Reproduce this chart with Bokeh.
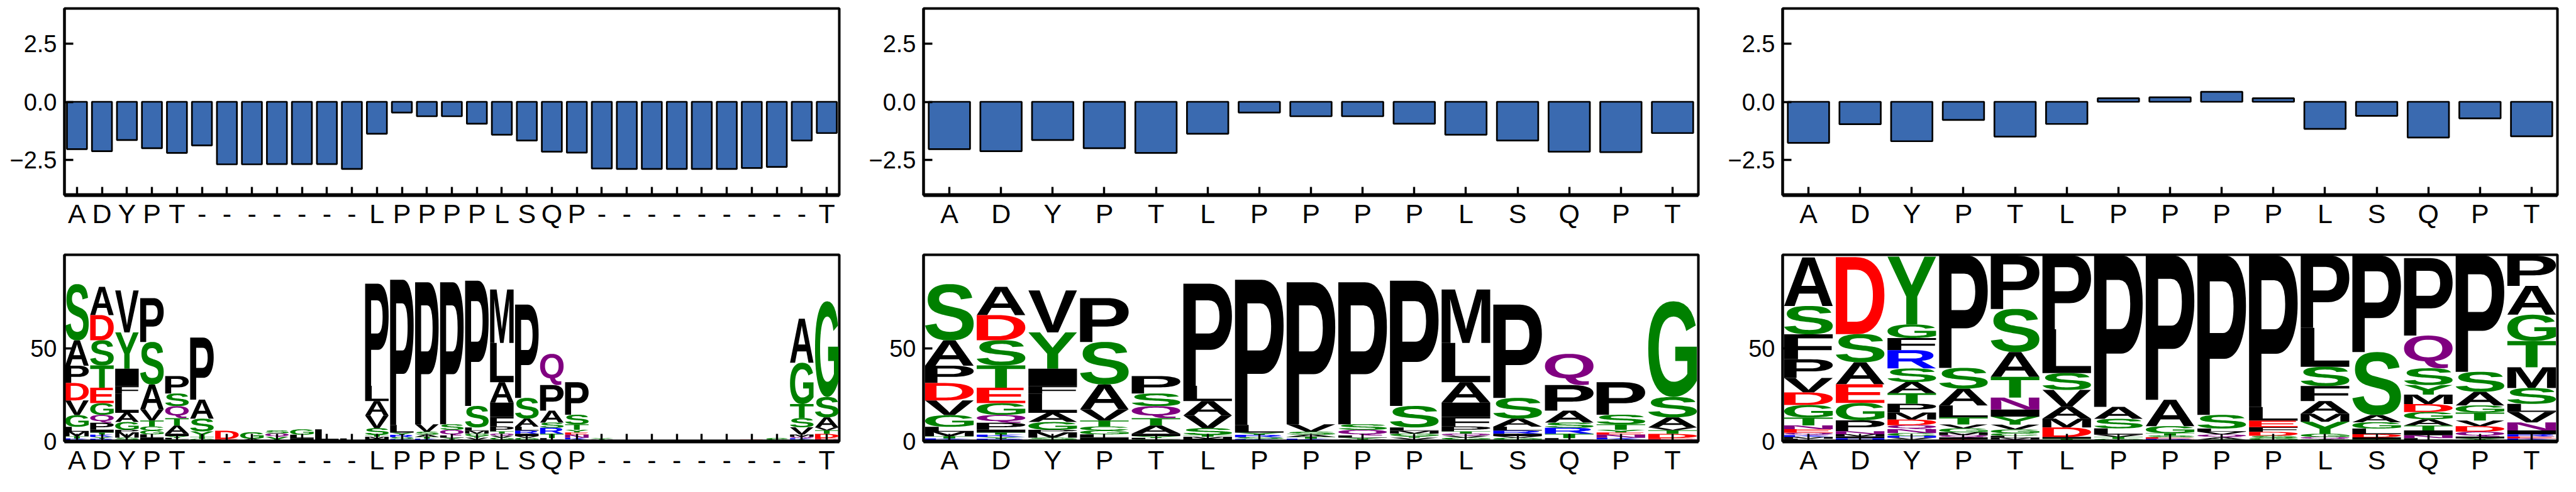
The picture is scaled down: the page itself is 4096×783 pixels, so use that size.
import os, struct
from bokeh.plotting import figure
from bokeh.layouts import column, row
from bokeh.models import FixedTicker, Range1d, CustomJSTickFormatter
from bokeh.embed import file_html
from bokeh.resources import INLINE
from bokeh.core.properties import value

# ---------------- data ----------------
labels_full = list("ADYPT") + ["-"] * 7 + list("LPPPPLSQP") + ["-"] * 9 + ["T"]
labels_short = list("ADYPTLPPPPLSQPT")

bars_full = [-2.03, -2.12, -1.64, -1.99, -2.19, -1.87, -2.68, -2.68, -2.67, -2.67, -2.67, -2.88,
             -1.37, -0.46, -0.62, -0.62, -0.94, -1.41, -1.66, -2.14, -2.18,
             -2.86, -2.88, -2.88, -2.88, -2.88, -2.88, -2.84, -2.79, -1.66, -1.34]
bars_mid = [-2.03, -2.12, -1.64, -1.99, -2.19, -1.37, -0.46, -0.62, -0.62, -0.94,
            -1.41, -1.66, -2.14, -2.16, -1.34]
bars_right = [-1.76, -0.96, -1.69, -0.78, -1.49, -0.95, 0.15, 0.19, 0.43, 0.15,
              -1.16, -0.60, -1.53, -0.71, -1.48]

# sequence-logo stacks: (letter, height) listed from top to bottom
logo_mid = [
    [("S", 30.2), ("A", 13.5), ("P", 9.3), ("D", 9.3), ("V", 7.9), ("G", 6.3), ("L", 2.6), ("M", 2.4), ("T", 1.2), ("K", 0.8), ("Y", 0.8)],
    [("A", 15.1), ("D", 13.5), ("S", 13.5), ("T", 11.9), ("E", 8.3), ("G", 6.3), ("Q", 4.2), ("P", 3.7), ("I", 1.5), ("T", 1.2), ("K", 1.2), ("Y", 1.0), ("R", 0.8), ("M", 0.6)],
    [("V", 22.5), ("Y", 19.4), ("I", 9.3), ("F", 4.2), ("L", 10.2), ("A", 4.9), ("G", 4.2), ("P", 1.3), ("M", 2.9), ("S", 1.0), ("T", 1.0)],
    [("P", 23.5), ("S", 22.8), ("A", 13.3), ("V", 6.0), ("T", 3.2), ("C", 2.1), ("G", 2.1), ("L", 1.8), ("I", 1.2), ("M", 0.8)],
    [("P", 9.3), ("S", 6.8), ("Q", 6.4), ("T", 4.0), ("A", 4.4), ("I", 1.2), ("Y", 1.0), ("L", 0.8), ("G", 0.6), ("S", 0.5)],
    [("P", 54.7), ("L", 8.2), ("A", 7.7), ("V", 6.8), ("S", 3.6), ("T", 1.0), ("M", 1.0), ("I", 0.8), ("G", 0.7)],
    [("P", 77.8), ("L", 4.1), ("Y", 1.2), ("R", 1.2), ("S", 1.0), ("K", 0.8), ("M", 0.5)],
    [("P", 76.1), ("V", 4.0), ("S", 1.6), ("A", 1.2), ("T", 1.0), ("K", 0.8), ("R", 0.6)],
    [("P", 76.1), ("S", 3.0), ("Q", 3.0), ("L", 1.2), ("Y", 1.0), ("V", 1.0)],
    [("P", 67.1), ("S", 11.5), ("L", 1.8), ("M", 1.5), ("G", 1.2), ("Y", 1.0), ("V", 1.0), ("A", 1.0)],
    [("M", 28.6), ("L", 21.1), ("A", 10.9), ("I", 7.7), ("F", 5.1), ("P", 2.6), ("T", 1.2), ("Q", 1.2), ("V", 1.0), ("G", 1.0), ("S", 1.0)],
    [("P", 50.0), ("S", 11.1), ("A", 4.3), ("L", 2.1), ("R", 1.7), ("I", 1.2), ("V", 1.0), ("G", 1.0), ("T", 0.9)],
    [("Q", 16.7), ("P", 13.7), ("A", 6.4), ("S", 2.8), ("R", 3.2), ("T", 2.3), ("L", 0.9), ("K", 0.9)],
    [("P", 17.4), ("S", 5.1), ("T", 3.0), ("Y", 1.4), ("E", 1.2), ("N", 1.7), ("K", 0.8), ("A", 0.6), ("G", 0.5)],
    [("G", 51.3), ("S", 10.9), ("A", 5.4), ("V", 1.5), ("T", 2.0), ("D", 2.2), ("E", 0.8), ("N", 0.6), ("S", 0.4)],
]

logo_gaps_a = [
    [("P", 33.2), ("A", 10.2), ("S", 6.8), ("Y", 3.0), ("T", 1.0), ("G", 0.8), ("V", 0.6)],
    [("D", 4.4), ("E", 0.8), ("G", 0.5)],
    [("G", 3.5), ("A", 1.0), ("K", 0.4)],
    [("S", 1.6), ("Q", 1.9), ("Y", 2.0), ("K", 0.4)],
    [("G", 2.9), ("L", 1.8), ("I", 1.8)],
    [("L", 6.0), ("S", 0.5)],
    [("L", 1.2), ("T", 0.4)],
]
logo_gaps_b = [
    [("Y", 0.8), ("V", 0.7), ("G", 0.3)],
    [("S", 0.3)],
    [("L", 0.3)],
    [("G", 0.3)],
    [("T", 0.3)],
    [("Q", 0.3)],
    [("E", 0.5), ("D", 0.4)],
    [("S", 1.8)],
    [("A", 23.5), ("G", 22.2), ("T", 7.5), ("S", 4.9), ("V", 3.9), ("M", 1.2), ("Q", 0.8), ("K", 0.6), ("T", 0.6), ("S", 0.5)],
]

logo_right = [
    [("A", 26.0), ("S", 15.2), ("F", 13.4), ("P", 10.0), ("V", 7.7), ("D", 6.8), ("G", 6.7), ("T", 4.2), ("N", 2.0), ("E", 2.0), ("Q", 1.2), ("K", 1.0), ("M", 1.0), ("L", 0.8), ("I", 0.6)],
    [("D", 41.2), ("S", 15.1), ("A", 11.8), ("E", 10.0), ("G", 9.3), ("P", 5.8), ("N", 1.6), ("M", 1.2), ("I", 1.0), ("H", 0.9), ("Y", 0.8)],
    [("Y", 36.3), ("G", 7.3), ("F", 6.5), ("R", 9.8), ("S", 7.3), ("A", 6.0), ("T", 5.6), ("P", 4.7), ("M", 3.8), ("D", 3.0), ("Q", 2.1), ("N", 2.1), ("C", 1.5), ("H", 1.0), ("V", 1.0), ("L", 1.0)],
    [("P", 60.3), ("S", 11.1), ("A", 9.0), ("L", 6.4), ("T", 3.8), ("V", 2.1), ("G", 2.1), ("M", 1.5), ("Q", 1.2), ("I", 1.2), ("D", 1.0)],
    [("P", 28.5), ("S", 23.1), ("A", 13.3), ("T", 11.1), ("N", 6.4), ("I", 3.8), ("Y", 4.3), ("V", 2.6), ("G", 2.0), ("C", 1.4), ("L", 1.0), ("M", 1.0), ("Q", 1.0)],
    [("P", 39.7), ("L", 23.5), ("S", 9.0), ("V", 9.0), ("A", 6.4), ("M", 4.7), ("D", 5.1), ("I", 1.0), ("T", 0.8), ("G", 0.6)],
    [("P", 81.2), ("A", 6.4), ("S", 5.1), ("L", 3.4), ("V", 1.2), ("T", 1.0), ("G", 0.8), ("E", 0.6)],
    [("P", 77.4), ("A", 14.1), ("G", 3.8), ("T", 1.2), ("S", 1.0), ("E", 0.8), ("R", 0.8), ("D", 0.6)],
    [("P", 85.5), ("S", 7.3), ("L", 1.7), ("V", 1.5), ("Q", 1.5), ("A", 1.2), ("G", 1.0)],
    [("P", 81.2), ("L", 7.3), ("E", 3.4), ("F", 2.6), ("D", 2.1), ("S", 1.2), ("G", 1.0), ("T", 0.8)],
    [("P", 38.9), ("L", 20.9), ("S", 10.3), ("F", 8.1), ("A", 6.8), ("M", 4.3), ("Y", 6.4), ("G", 1.7), ("Q", 1.2), ("T", 1.2)],
    [("P", 51.7), ("S", 33.8), ("A", 3.8), ("G", 3.4), ("L", 3.0), ("D", 1.7), ("I", 1.2), ("T", 1.0)],
    [("P", 41.5), ("Q", 17.5), ("S", 9.0), ("Y", 5.1), ("M", 5.1), ("D", 4.3), ("G", 3.8), ("A", 3.4), ("T", 2.6), ("I", 2.6), ("N", 1.5), ("L", 1.0), ("E", 0.8)],
    [("P", 62.4), ("S", 10.7), ("A", 7.3), ("G", 3.8), ("T", 4.3), ("V", 3.0), ("D", 3.0), ("Q", 2.6), ("I", 1.0), ("Y", 0.8), ("N", 0.8)],
    [("P", 16.2), ("A", 15.4), ("G", 14.1), ("T", 14.1), ("M", 11.1), ("S", 8.5), ("L", 4.3), ("V", 5.6), ("N", 4.3), ("I", 2.1), ("R", 1.2), ("E", 1.0), ("K", 0.8), ("D", 0.8)],
]

logo_full = logo_mid[0:5] + logo_gaps_a + logo_mid[5:14] + logo_gaps_b + logo_mid[14:15]

bar_ticks = [-2.5, 0.0, 2.5]
logo_ticks = [0, 50]

# ---------------- styling ----------------
BAR_COLOR = "#3A6AB0"
GREEN, RED, PURPLE, BLUE, BLACK = "#008000", "#FF0000", "#800080", "#0000FF", "#000000"
LETTER_COLORS = {}
for ch in "GSTYC":
    LETTER_COLORS[ch] = GREEN
for ch in "DE":
    LETTER_COLORS[ch] = RED
for ch in "QN":
    LETTER_COLORS[ch] = PURPLE
for ch in "KRH":
    LETTER_COLORS[ch] = BLUE

FONT = "Liberation Sans"
FW, FH = 1232, 297


# ---------------- font outline reader (TrueType) ----------------
def find_font():
    cands = ["LiberationSans-Bold.ttf", "DejaVuSans-Bold.ttf", "Arial Bold.ttf", "arialbd.ttf"]
    roots = ["/usr/share/fonts", "/usr/local/share/fonts",
             os.path.expanduser("~/.fonts"), os.path.expanduser("~/.local/share/fonts")]
    found = {}
    for r in roots:
        if not os.path.isdir(r):
            continue
        for dp, dn, fns in os.walk(r):
            for fn in fns:
                if fn in cands and fn not in found:
                    found[fn] = os.path.join(dp, fn)
    for c in cands:
        if c in found:
            return found[c]
    return None


class TTF:
    def __init__(self, path):
        d = open(path, "rb").read()
        self.d = d
        off0 = struct.unpack(">I", d[12:16])[0] if d[:4] == b"ttcf" else 0
        n = struct.unpack(">H", d[off0 + 4:off0 + 6])[0]
        self.t = {}
        for i in range(n):
            rec = off0 + 12 + 16 * i
            tag = d[rec:rec + 4].decode("latin1")
            off = struct.unpack(">I", d[rec + 8:rec + 12])[0]
            self.t[tag] = off
        h = self.t["head"]
        self.locfmt = struct.unpack(">h", d[h + 50:h + 52])[0]
        self.glyf = self.t["glyf"]
        self.loca = self.t["loca"]
        c = self.t["cmap"]
        nsub = struct.unpack(">H", d[c + 2:c + 4])[0]
        self.cm = None
        for i in range(nsub):
            pid, eid, so = struct.unpack(">HHI", d[c + 4 + 8 * i:c + 12 + 8 * i])
            fmt = struct.unpack(">H", d[c + so:c + so + 2])[0]
            if fmt == 4 and (pid == 0 or (pid == 3 and eid in (1, 10))):
                self.cm = c + so
                break

    def _loca(self, g):
        d, o = self.d, self.loca
        if self.locfmt == 0:
            a, b = struct.unpack(">HH", d[o + 2 * g:o + 2 * g + 4])
            return 2 * a, 2 * b
        return struct.unpack(">II", d[o + 4 * g:o + 4 * g + 8])

    def gid(self, ch):
        d, p, code = self.d, self.cm, ord(ch)
        segx2 = struct.unpack(">H", d[p + 6:p + 8])[0]
        seg = segx2 // 2
        ends_o = p + 14
        starts_o = ends_o + segx2 + 2
        delta_o = starts_o + segx2
        roff_o = delta_o + segx2
        for i in range(seg):
            end = struct.unpack(">H", d[ends_o + 2 * i:ends_o + 2 * i + 2])[0]
            if end >= code:
                start = struct.unpack(">H", d[starts_o + 2 * i:starts_o + 2 * i + 2])[0]
                if start > code:
                    return 0
                delta = struct.unpack(">h", d[delta_o + 2 * i:delta_o + 2 * i + 2])[0]
                ro = struct.unpack(">H", d[roff_o + 2 * i:roff_o + 2 * i + 2])[0]
                if ro == 0:
                    return (code + delta) & 0xFFFF
                a = roff_o + 2 * i + ro + 2 * (code - start)
                g = struct.unpack(">H", d[a:a + 2])[0]
                return (g + delta) & 0xFFFF if g else 0
        return 0

    def contours(self, g):
        d = self.d
        s, e = self._loca(g)
        if e <= s:
            return []
        p = self.glyf + s
        nc = struct.unpack(">h", d[p:p + 2])[0]
        if nc < 0:
            return self._composite(p)
        p += 10
        ends = struct.unpack(">%dH" % nc, d[p:p + 2 * nc])
        p += 2 * nc
        il = struct.unpack(">H", d[p:p + 2])[0]
        p += 2 + il
        npts = ends[-1] + 1 if nc else 0
        flags = []
        while len(flags) < npts:
            f = d[p]
            p += 1
            flags.append(f)
            if f & 8:
                r = d[p]
                p += 1
                flags.extend([f] * r)
        flags = flags[:npts]
        xs, v = [], 0
        for f in flags:
            if f & 2:
                dv = d[p]; p += 1
                v += dv if f & 16 else -dv
            elif not f & 16:
                v += struct.unpack(">h", d[p:p + 2])[0]; p += 2
            xs.append(v)
        ys, v = [], 0
        for f in flags:
            if f & 4:
                dv = d[p]; p += 1
                v += dv if f & 32 else -dv
            elif not f & 32:
                v += struct.unpack(">h", d[p:p + 2])[0]; p += 2
            ys.append(v)
        out, st = [], 0
        for en in ends:
            pts = list(zip(xs[st:en + 1], ys[st:en + 1]))
            on = [fl & 1 for fl in flags[st:en + 1]]
            out.append((pts, on))
            st = en + 1
        return out

    def _composite(self, p):
        d = self.d
        p += 10
        out = []
        while True:
            fl, gi = struct.unpack(">HH", d[p:p + 4]); p += 4
            if fl & 1:
                a1, a2 = struct.unpack(">hh", d[p:p + 4]); p += 4
            else:
                a1, a2 = struct.unpack(">bb", d[p:p + 2]); p += 2
            sx = sy = 1.0
            s01 = s10 = 0.0
            if fl & 8:
                sx = sy = struct.unpack(">h", d[p:p + 2])[0] / 16384.0; p += 2
            elif fl & 0x40:
                sx, sy = [q / 16384.0 for q in struct.unpack(">hh", d[p:p + 4])]; p += 4
            elif fl & 0x80:
                sx, s01, s10, sy = [q / 16384.0 for q in struct.unpack(">hhhh", d[p:p + 8])]; p += 8
            dx, dy = (a1, a2) if fl & 2 else (0, 0)
            for pts, on in self.contours(gi):
                out.append(([(x * sx + y * s10 + dx, x * s01 + y * sy + dy) for x, y in pts], on))
            if not fl & 0x20:
                break
        return out


def flatten(pts, on, steps=6):
    n = len(pts)
    seq = []
    for k in range(n):
        seq.append((pts[k], on[k]))
        if not on[k] and not on[(k + 1) % n]:
            q = pts[(k + 1) % n]
            seq.append((((pts[k][0] + q[0]) / 2.0, (pts[k][1] + q[1]) / 2.0), 1))
    s = next(i for i, (_, o) in enumerate(seq) if o)
    seq = seq[s:] + seq[:s]
    m = len(seq)
    cur = seq[0][0]
    res = [cur]
    j = 1
    while j < m + 1:
        pt, o = seq[j % m]
        if o:
            if j < m:
                res.append(pt)
            cur = pt
            j += 1
        else:
            end = seq[(j + 1) % m][0]
            for k in range(1, steps + 1):
                t = k / float(steps)
                res.append(((1 - t) ** 2 * cur[0] + 2 * (1 - t) * t * pt[0] + t * t * end[0],
                            (1 - t) ** 2 * cur[1] + 2 * (1 - t) * t * pt[1] + t * t * end[1]))
            cur = end
            j += 2
    return res


_font_path = find_font()
_ttf = None
if _font_path:
    try:
        _ttf = TTF(_font_path)
    except Exception:
        _ttf = None
_glyph_cache = {}


def letter_rings(ch):
    if ch in _glyph_cache:
        return _glyph_cache[ch]
    rings = []
    for pts, on in _ttf.contours(_ttf.gid(ch)):
        if len(pts) > 1:
            rings.append(flatten(pts, on))
    allx = [p[0] for r in rings for p in r]
    ally = [p[1] for r in rings for p in r]
    x0, x1, y0, y1 = min(allx), max(allx), min(ally), max(ally)
    norm = [([(p[0] - x0) / (x1 - x0) for p in r], [(p[1] - y0) / (y1 - y0) for p in r]) for r in rings]
    _glyph_cache[ch] = norm
    return norm


def draw_logo(p, stacks, width=0.94):
    groups = {}
    for i, stack in enumerate(stacks):
        base = 0.0
        for letter, h in reversed(stack):
            col = LETTER_COLORS.get(letter, BLACK)
            if _ttf is not None:
                rings = letter_rings(letter)
                xs_r = [[i - width / 2 + u * width for u in rx] for rx, ry in rings]
                ys_r = [[base + v * h for v in ry] for rx, ry in rings]
                g = groups.setdefault(col, ([], []))
                g[0].append([xs_r])
                g[1].append([ys_r])
            else:
                p.text(x=[i], y=[base], text=[letter], text_color=col, text_align="center",
                       text_baseline="bottom", text_font=value(FONT), text_font_style="bold",
                       text_font_size="%dpx" % max(1, int(h * 3.0)))
            base += h
    for col, (xs, ys) in groups.items():
        p.multi_polygons(xs=xs, ys=ys, fill_color=col, line_color=None)


# ---------------- figures ----------------
def make_fig(labels, y_range, yticks, top, bottom, right, yfmt):
    n = len(labels)
    p = figure(frame_width=FW, frame_height=FH,
               x_range=Range1d(-0.5, n - 0.5), y_range=Range1d(*y_range),
               output_backend="svg", toolbar_location=None,
               min_border_left=102, min_border_right=right,
               min_border_top=top, min_border_bottom=bottom)
    p.grid.visible = False
    p.outline_line_color = "black"
    p.outline_line_width = 4
    p.outline_line_alpha = 1.0
    p.background_fill_color = "white"
    p.border_fill_color = "white"
    for ax in (p.xaxis[0], p.yaxis[0]):
        ax.axis_line_width = 4
        ax.axis_line_color = "black"
        ax.major_tick_in = 14
        ax.major_tick_out = 0
        ax.major_tick_line_width = 3.4
        ax.major_tick_line_color = "black"
        ax.minor_tick_line_color = None
        ax.major_label_text_font = FONT
        ax.major_label_text_color = "black"
        ax.major_label_text_font_style = "normal"
    p.xaxis.axis_line_width = 6
    p.xaxis.ticker = FixedTicker(ticks=list(range(n)))
    p.xaxis.formatter = CustomJSTickFormatter(
        args=dict(labels=labels),
        code="const i = Math.round(tick); return (i >= 0 && i < labels.length) ? labels[i] : '';")
    p.xaxis.major_label_text_font_size = "43px"
    p.xaxis.major_label_standoff = 5
    p.xaxis.major_tick_in = 13
    p.yaxis.ticker = FixedTicker(ticks=yticks)
    p.yaxis.formatter = yfmt
    p.yaxis.major_label_text_font_size = "38px"
    p.yaxis.major_label_standoff = 12
    return p


def bar_fmt():
    return CustomJSTickFormatter(code="return tick < 0 ? '\u2212' + Math.abs(tick).toFixed(1) : tick.toFixed(1);")


def logo_fmt():
    return CustomJSTickFormatter(code="return tick.toFixed(0);")


rights = [32, 32, 10]
bar_sets = [(labels_full, bars_full), (labels_short, bars_mid), (labels_short, bars_right)]
logo_sets = [(labels_full, logo_full), (labels_short, logo_mid), (labels_short, logo_right)]

top_figs = []
for (labs, vals), r in zip(bar_sets, rights):
    p = make_fig(labs, (-4, 4), bar_ticks, 13, 70, r, bar_fmt())
    p.vbar(x=list(range(len(vals))), top=vals, bottom=0, width=0.8,
           fill_color=BAR_COLOR, line_color="black", line_width=2.7)
    top_figs.append(p)

bottom_figs = []
for (labs, stacks), r in zip(logo_sets, rights):
    p = make_fig(labs, (0, 100), logo_ticks, 25, 55, r, logo_fmt())
    p.yaxis.major_tick_in = 14
    p.xaxis.major_tick_in = 12
    draw_logo(p, stacks)
    bottom_figs.append(p)

layout = column(row(*top_figs), row(*bottom_figs))
open("out.html", "w").write(file_html(layout, INLINE))
